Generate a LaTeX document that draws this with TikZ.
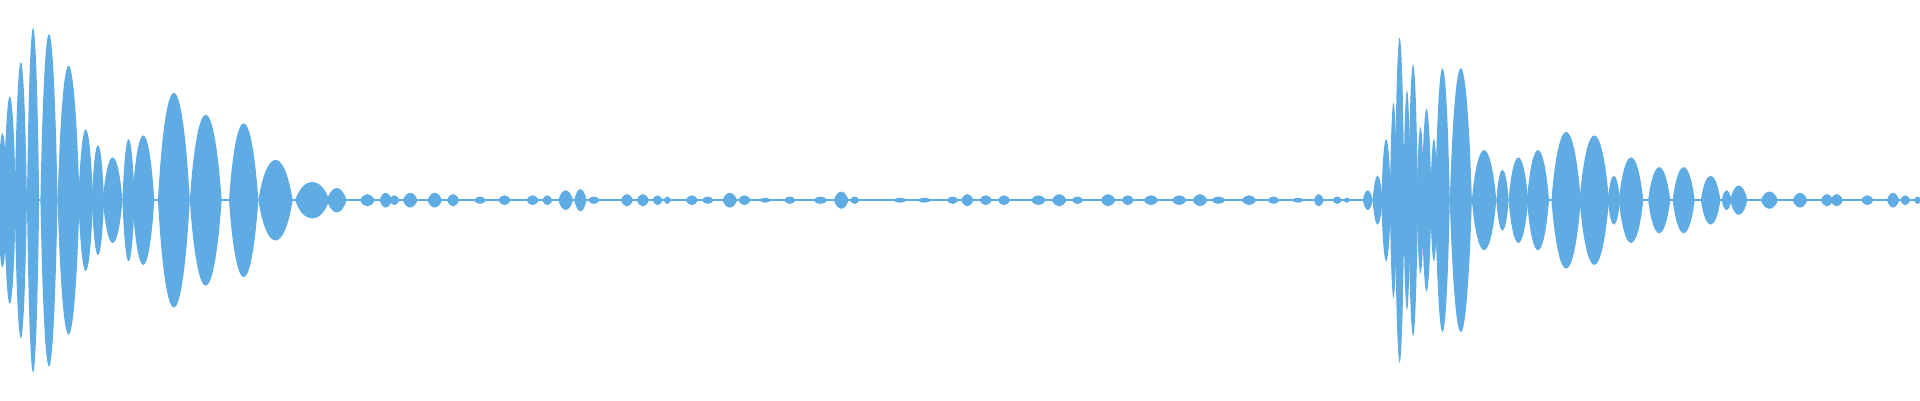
\documentclass[tikz,border=0pt]{standalone}
\definecolor{wave}{RGB}{94,172,227}
\begin{document}
\begin{tikzpicture}[x=1pt,y=1pt,lobe/.style={fill=wave}]
\useasboundingbox (0,0) rectangle (1568,327);
\begin{scope}[yshift=163.5pt]
\draw[wave,line width=1.6pt] (0,0) -- (1568,0);
\foreach \c/\w/\a in {
 2/4/55, 8/5/85, 17/5/113, 27/5/141, 40/7/136, 56/9/110, 70/6/58, 80/5/45, 92/8/35, 105/5/50, 117/9/53, 142/13/88, 168/13/70, 199/12/63, 225/14/33, 255/14/15, 275/8/10,
 300/6/5, 315/5/6, 322/4/4, 335/6/6, 355/6/6, 370/5/5, 392/5/3, 412/5/4, 435/5/4, 447/4/4, 462/6/8, 474/5/9, 485/5/3, 512/5/5, 525/5/5, 537/4/4, 545/3/3, 565/5/4, 578/5/3, 596/6/6, 608/5/4, 625/5/2, 645/5/3, 670/6/3, 687/6/7, 698/4/3, 735/6/2, 755/6/2, 778/5/3, 790/5/5, 805/5/4, 820/5/4, 848/6/4, 865/6/5, 880/5/3, 905/6/5, 921/5/4, 940/6/4, 963/6/4, 980/6/5, 995/6/3, 1020/6/4, 1040/5/3, 1060/5/2, 1077/4/5, 1092/4/3, 1100/3/2, 1117/4/8, 1125/4/20,
 1132/4/50, 1138/3/80, 1143/4/133, 1149/3/90, 1154/4/111, 1160/3/60, 1165/4/75, 1171/3/50, 1178/6/108, 1193/9/108, 1212/10/41, 1227/5/25, 1240/8/35, 1256/9/41, 1279/12/56, 1302/12/53, 1318/5/20, 1332/10/35, 1355/9/27, 1375/9/27, 1397/8/20, 1410/4/8, 1420/7/12, 1445/7/7, 1470/6/6, 1492/5/5, 1500/5/5, 1525/5/4, 1546/5/6, 1556/4/4, 1566/3/3}
 { \fill[lobe] (\c-\w,0) .. controls (\c-\w*0.5,\a*1.33) and (\c+\w*0.5,\a*1.33) .. (\c+\w,0)
    .. controls (\c+\w*0.5,-\a*1.33) and (\c-\w*0.5,-\a*1.33) .. cycle; }
\end{scope}
\end{tikzpicture}
\end{document}
